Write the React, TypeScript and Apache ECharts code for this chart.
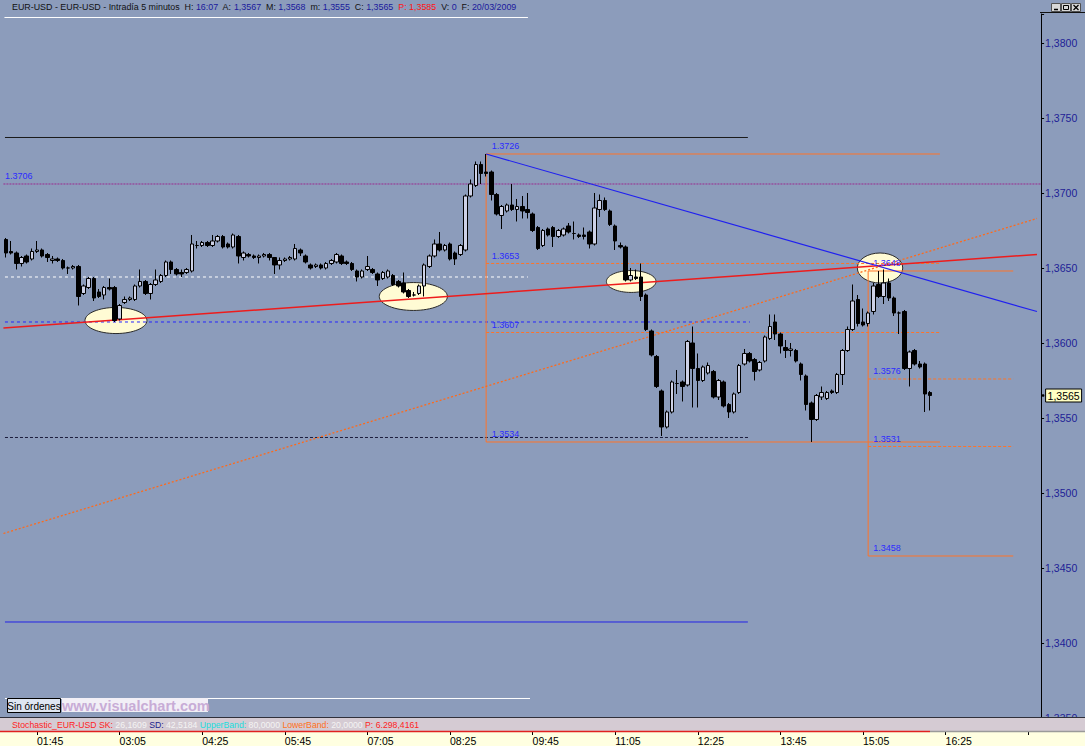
import { useEffect, useRef } from 'react';
import * as echarts from 'echarts';

// ---------- DATA ----------
const SLOT_COUNT = 201; // 5-minute slots shown on the time axis
const FIRST_SLOT_MINUTES = 75; // 01:15
const TIME_LABEL_FIRST = 6;
const TIME_LABEL_STEP = 16;
const TIME_LABEL_LAST = 190;

const TIME_SLOTS: string[] = Array.from({ length: SLOT_COUNT }, (_, i) => {
  const m = FIRST_SLOT_MINUTES + 5 * i;
  return String(Math.floor(m / 60) % 24).padStart(2, '0') + ':' + String(m % 60).padStart(2, '0');
});

// [open, close, low, high]
const CANDLES: number[][] = [
  [1.3669, 1.3660, 1.3657, 1.3670], [1.3661, 1.3660, 1.3659, 1.3668], [1.3660, 1.3653, 1.3649, 1.3661],
  [1.3653, 1.3657, 1.3651, 1.3658], [1.3658, 1.3654, 1.3653, 1.3659], [1.3656, 1.3661, 1.3655, 1.3663],
  [1.3661, 1.3662, 1.3660, 1.3668], [1.3662, 1.3658, 1.3657, 1.3663], [1.3659, 1.3657, 1.3654, 1.3660],
  [1.3655, 1.3656, 1.3653, 1.3658], [1.3656, 1.3655, 1.3654, 1.3657], [1.3655, 1.3650, 1.3649, 1.3656],
  [1.3650, 1.3650, 1.3646, 1.3651], [1.3650, 1.3651, 1.3649, 1.3652], [1.3651, 1.3631, 1.3625, 1.3652],
  [1.3633, 1.3638, 1.3632, 1.3639], [1.3637, 1.3643, 1.3636, 1.3644], [1.3643, 1.3630, 1.3628, 1.3644],
  [1.3634, 1.3631, 1.3630, 1.3636], [1.3632, 1.3637, 1.3629, 1.3638], [1.3637, 1.3636, 1.3635, 1.3643],
  [1.3637, 1.3615, 1.3614, 1.3638], [1.3616, 1.3625, 1.3615, 1.3626], [1.3627, 1.3629, 1.3626, 1.3631],
  [1.3629, 1.3630, 1.3628, 1.3631], [1.3629, 1.3638, 1.3628, 1.3639], [1.3638, 1.3641, 1.3637, 1.3649],
  [1.3641, 1.3633, 1.3632, 1.3642], [1.3633, 1.3639, 1.3629, 1.3640], [1.3639, 1.3642, 1.3638, 1.3649],
  [1.3641, 1.3645, 1.3640, 1.3646], [1.3645, 1.3654, 1.3644, 1.3655], [1.3654, 1.3649, 1.3646, 1.3655],
  [1.3649, 1.3646, 1.3645, 1.3650], [1.3647, 1.3646, 1.3644, 1.3649], [1.3647, 1.3649, 1.3646, 1.3650],
  [1.3648, 1.3666, 1.3647, 1.3672], [1.3665, 1.3665, 1.3663, 1.3668], [1.3665, 1.3667, 1.3664, 1.3668],
  [1.3667, 1.3665, 1.3664, 1.3668], [1.3665, 1.3668, 1.3664, 1.3672], [1.3668, 1.3671, 1.3667, 1.3672],
  [1.3671, 1.3664, 1.3663, 1.3672], [1.3666, 1.3664, 1.3663, 1.3667], [1.3664, 1.3672, 1.3663, 1.3673],
  [1.3671, 1.3658, 1.3653, 1.3672], [1.3657, 1.3660, 1.3655, 1.3661], [1.3659, 1.3658, 1.3657, 1.3660],
  [1.3658, 1.3657, 1.3656, 1.3659], [1.3657, 1.3658, 1.3653, 1.3659], [1.3658, 1.3659, 1.3657, 1.3660],
  [1.3659, 1.3657, 1.3655, 1.3660], [1.3657, 1.3652, 1.3646, 1.3657], [1.3652, 1.3655, 1.3649, 1.3657],
  [1.3655, 1.3656, 1.3654, 1.3657], [1.3656, 1.3657, 1.3655, 1.3658], [1.3656, 1.3663, 1.3655, 1.3666],
  [1.3662, 1.3660, 1.3658, 1.3663], [1.3658, 1.3654, 1.3653, 1.3659], [1.3652, 1.3650, 1.3649, 1.3653],
  [1.3651, 1.3652, 1.3650, 1.3653], [1.3652, 1.3650, 1.3649, 1.3653], [1.3650, 1.3653, 1.3649, 1.3654],
  [1.3653, 1.3655, 1.3652, 1.3656], [1.3654, 1.3659, 1.3653, 1.3660], [1.3658, 1.3653, 1.3652, 1.3659],
  [1.3654, 1.3653, 1.3652, 1.3655], [1.3653, 1.3649, 1.3648, 1.3654], [1.3648, 1.3644, 1.3641, 1.3649],
  [1.3644, 1.3648, 1.3643, 1.3649], [1.3649, 1.3651, 1.3648, 1.3658], [1.3649, 1.3647, 1.3646, 1.3650],
  [1.3646, 1.3642, 1.3638, 1.3647], [1.3643, 1.3647, 1.3642, 1.3648], [1.3644, 1.3648, 1.3643, 1.3649],
  [1.3645, 1.3639, 1.3638, 1.3646], [1.3641, 1.3638, 1.3637, 1.3642], [1.3640, 1.3634, 1.3633, 1.3647],
  [1.3635, 1.3631, 1.3630, 1.3636], [1.3632, 1.3632, 1.3631, 1.3634], [1.3633, 1.3638, 1.3632, 1.3639],
  [1.3638, 1.3652, 1.3631, 1.3653], [1.3651, 1.3658, 1.3650, 1.3659], [1.3658, 1.3666, 1.3657, 1.3669],
  [1.3666, 1.3662, 1.3661, 1.3674], [1.3662, 1.3665, 1.3661, 1.3666], [1.3666, 1.3656, 1.3655, 1.3667],
  [1.3660, 1.3656, 1.3652, 1.3661], [1.3659, 1.3665, 1.3658, 1.3666], [1.3662, 1.3698, 1.3661, 1.3699],
  [1.3698, 1.3706, 1.3697, 1.3709], [1.3705, 1.3719, 1.3704, 1.3721], [1.3719, 1.3713, 1.3706, 1.3721],
  [1.3714, 1.3713, 1.3711, 1.3726], [1.3714, 1.3699, 1.3695, 1.3715], [1.3699, 1.3686, 1.3685, 1.3700],
  [1.3685, 1.3691, 1.3676, 1.3692], [1.3688, 1.3692, 1.3687, 1.3693], [1.3692, 1.3689, 1.3688, 1.3706],
  [1.3689, 1.3691, 1.3681, 1.3696], [1.3691, 1.3688, 1.3683, 1.3698], [1.3689, 1.3687, 1.3683, 1.3700],
  [1.3686, 1.3675, 1.3674, 1.3687], [1.3677, 1.3663, 1.3662, 1.3678], [1.3665, 1.3675, 1.3664, 1.3676],
  [1.3676, 1.3672, 1.3671, 1.3677], [1.3677, 1.3671, 1.3664, 1.3678], [1.3671, 1.3675, 1.3670, 1.3676],
  [1.3672, 1.3676, 1.3671, 1.3677], [1.3678, 1.3674, 1.3673, 1.3680], [1.3673, 1.3673, 1.3669, 1.3681],
  [1.3672, 1.3671, 1.3670, 1.3673], [1.3672, 1.3671, 1.3669, 1.3677], [1.3674, 1.3666, 1.3663, 1.3675],
  [1.3666, 1.3690, 1.3665, 1.3700], [1.3689, 1.3695, 1.3684, 1.3699], [1.3695, 1.3689, 1.3688, 1.3697],
  [1.3688, 1.3679, 1.3678, 1.3689], [1.3678, 1.3668, 1.3662, 1.3679], [1.3665, 1.3664, 1.3663, 1.3667],
  [1.3664, 1.3642, 1.3641, 1.3665], [1.3642, 1.3645, 1.3641, 1.3650], [1.3644, 1.3643, 1.3642, 1.3649],
  [1.3644, 1.3631, 1.3628, 1.3653], [1.3632, 1.3609, 1.3608, 1.3633], [1.3608, 1.3592, 1.3591, 1.3609],
  [1.3591, 1.3571, 1.3570, 1.3592], [1.3568, 1.3544, 1.3538, 1.3569], [1.3544, 1.3554, 1.3543, 1.3555],
  [1.3554, 1.3574, 1.3553, 1.3575], [1.3573, 1.3573, 1.3566, 1.3582], [1.3574, 1.3571, 1.3561, 1.3575],
  [1.3572, 1.3601, 1.3571, 1.3602], [1.3600, 1.3583, 1.3557, 1.3611], [1.3583, 1.3575, 1.3557, 1.3593],
  [1.3575, 1.3584, 1.3574, 1.3585], [1.3580, 1.3585, 1.3579, 1.3587], [1.3581, 1.3564, 1.3563, 1.3582],
  [1.3564, 1.3575, 1.3562, 1.3576], [1.3574, 1.3558, 1.3557, 1.3575], [1.3559, 1.3554, 1.3550, 1.3560],
  [1.3554, 1.3566, 1.3553, 1.3567], [1.3567, 1.3585, 1.3566, 1.3586], [1.3586, 1.3593, 1.3585, 1.3596],
  [1.3593, 1.3588, 1.3587, 1.3594], [1.3589, 1.3581, 1.3575, 1.3590], [1.3582, 1.3587, 1.3581, 1.3588],
  [1.3588, 1.3604, 1.3587, 1.3605], [1.3603, 1.3611, 1.3602, 1.3619], [1.3614, 1.3606, 1.3602, 1.3619],
  [1.3606, 1.3598, 1.3593, 1.3607], [1.3597, 1.3595, 1.3590, 1.3602], [1.3595, 1.3596, 1.3591, 1.3600],
  [1.3595, 1.3588, 1.3587, 1.3596], [1.3586, 1.3579, 1.3575, 1.3587], [1.3578, 1.3559, 1.3555, 1.3579],
  [1.3560, 1.3549, 1.3534, 1.3561], [1.3549, 1.3565, 1.3548, 1.3566], [1.3564, 1.3567, 1.3562, 1.3571],
  [1.3563, 1.3567, 1.3562, 1.3568], [1.3568, 1.3567, 1.3566, 1.3569], [1.3567, 1.3579, 1.3566, 1.3580],
  [1.3579, 1.3595, 1.3572, 1.3596], [1.3595, 1.3609, 1.3594, 1.3611], [1.3609, 1.3628, 1.3608, 1.3639],
  [1.3629, 1.3613, 1.3611, 1.3632], [1.3614, 1.3612, 1.3611, 1.3623], [1.3613, 1.3620, 1.3611, 1.3621],
  [1.3621, 1.3638, 1.3619, 1.3640], [1.3639, 1.3631, 1.3630, 1.3648], [1.3631, 1.3640, 1.3626, 1.3649],
  [1.3640, 1.3630, 1.3628, 1.3643], [1.3630, 1.3620, 1.3618, 1.3631], [1.3620, 1.3620, 1.3606, 1.3621],
  [1.3621, 1.3583, 1.3582, 1.3622], [1.3583, 1.3594, 1.3571, 1.3595], [1.3595, 1.3586, 1.3585, 1.3596],
  [1.3586, 1.3584, 1.3583, 1.3588], [1.3586, 1.3566, 1.3554, 1.3587], [1.3567, 1.3565, 1.3555, 1.3568],
];

const PRICE_MIN = 1.335;
const PRICE_MAX = 1.381933;
const PRICE_STEP = 0.005;

// horizontal levels (price) and their bar spans [from, to]
const LEVEL_PRICES = [1.3817, 1.3737, 1.3706, 1.3644, 1.3614, 1.3537, 1.3414, 1.3363];
const LEVEL_SPANS = [[-0.3, 101.1], [-0.2, 143.7], [-0.5, 200.5], [-0.2, 101.1], [-0.2, 144.1], [-0.2, 144.1], [-0.2, 143.7], [-0.2, 101.5]];

// trend lines [[bar, price], [bar, price]]
const TREND_SUPPORT = [[-0.5, 1.3610], [199.7, 1.3659]];
const TREND_DOWN = [[93, 1.3726], [199.7, 1.3621]];
const TREND_DOTTED = [[-0.5, 1.3473], [199.7, 1.3683]];

// fibonacci retracements
const FIB_A_BARS = [93, 180.9];
const FIB_A_PRICES = [1.3726, 1.3653, 1.3607, 1.3534];
const FIB_B_BARS = [167, 195.1];
const FIB_B_PRICES = [1.3648, 1.3576, 1.3531, 1.3458];

// circled zones [bar, price, halfWidthBars, halfHeightPrice]
const CIRCLED = [[21.3, 1.3615, 6.0, 0.00087], [78.9, 1.3631, 6.6, 0.00093], [121.1, 1.3641, 4.8, 0.00073], [169.3, 1.3650, 4.4, 0.0010]];

const LEFT_LEVEL_LABEL = [-0.2, 1.3706];

// ---------- STYLE ----------
const FONT = 'Liberation Sans, Arial, sans-serif';
const BG = '#8c9cbb';
const ORANGE = '#ff7428';
const GRID_LEFT = 3.43;
const GRID_RIGHT = 43.9;

const fmtComma = (v: number) => v.toFixed(4).replace('.', ',');

function lineSeries(data: number[][], color: string, type: any, width: number, z = 2) {
  return {
    type: 'line', xAxisIndex: 1, yAxisIndex: 0, data, symbol: 'none', silent: true,
    animation: false, lineStyle: { color, type, width }, z, clip: true,
  };
}

function buildOption(): any {
  const levelStyles: [string, any, number][] = [
    ['#ffffff', 'solid', 1],
    ['#1a1a1a', 'solid', 1],
    ['#9a2a8e', [2, 1], 1],
    ['#ffffff', [3, 3], 1],
    ['#2424ff', [3, 3], 1],
    ['#1c1c3c', [3, 2], 1],
    ['#2222e6', 'solid', 1],
    ['#ffffff', 'solid', 1],
  ];
  const series: any[] = [];

  LEVEL_PRICES.forEach((p, k) => {
    const [c, t, w] = levelStyles[k];
    series.push(lineSeries([[LEVEL_SPANS[k][0], p], [LEVEL_SPANS[k][1], p]], c, t, w));
  });

  const fibs = [[FIB_A_BARS, FIB_A_PRICES], [FIB_B_BARS, FIB_B_PRICES]];
  fibs.forEach(([bars, prices]) => {
    series.push(lineSeries([[bars[0], prices[0]], [bars[0], prices[3]]], ORANGE, 'solid', 1));
    prices.forEach((p, k) => {
      const dashed = k === 1 || k === 2;
      series.push(lineSeries([[bars[0], p], [bars[1], p]], ORANGE, dashed ? [3, 2] : 'solid', 1));
    });
  });

  series.push(lineSeries(TREND_DOTTED, '#ff6a1a', [2, 2], 1.3));
  series.push(lineSeries(TREND_DOWN, '#2020f0', 'solid', 1.2));
  series.push(lineSeries(TREND_SUPPORT, '#ee1c1c', 'solid', 1.5, 3));

  // circled zones
  series.push({
    type: 'custom', xAxisIndex: 1, yAxisIndex: 0, z: 1, silent: true, clip: false,
    data: CIRCLED, encode: { x: 0, y: 1 },
    renderItem: (_params: any, api: any) => {
      const c = api.coord([api.value(0), api.value(1)]);
      const s = api.size([api.value(2), api.value(3)]);
      return {
        type: 'ellipse', shape: { cx: c[0], cy: c[1], rx: s[0], ry: s[1] },
        style: { fill: '#fffbd4', stroke: '#2a2a2a', lineWidth: 1 },
      };
    },
  });

  // level labels
  const labelPts: number[][] = [LEFT_LEVEL_LABEL];
  FIB_A_PRICES.forEach((p) => labelPts.push([FIB_A_BARS[0] + 1.1, p]));
  FIB_B_PRICES.forEach((p) => labelPts.push([FIB_B_BARS[0] + 1.0, p]));
  series.push({
    type: 'custom', xAxisIndex: 1, yAxisIndex: 0, z: 6, silent: true, clip: false,
    data: labelPts, encode: { x: 0, y: 1 },
    renderItem: (_params: any, api: any) => {
      const c = api.coord([api.value(0), api.value(1)]);
      return {
        type: 'text', x: c[0], y: c[1] - 3,
        style: { text: api.value(1).toFixed(4), fill: '#2b2bff', font: `9px ${FONT}`, align: 'left', verticalAlign: 'bottom' },
      };
    },
  });

  // candles
  series.push({
    type: 'candlestick', xAxisIndex: 0, yAxisIndex: 0, z: 5, data: CANDLES, barWidth: 4, silent: true,
    itemStyle: { color: '#cdd1e6', color0: '#000000', borderColor: '#000000', borderColor0: '#000000', borderWidth: 1 },
  });

  // last price tag
  const last = CANDLES[CANDLES.length - 1];
  series.push({
    type: 'custom', xAxisIndex: 1, yAxisIndex: 0, z: 10, silent: true, clip: false,
    data: [[CANDLES.length - 1, last[1]]], encode: { x: 0, y: 1 },
    renderItem: (params: any, api: any) => {
      const cs = params.coordSys;
      const y = Math.round(api.coord([api.value(0), api.value(1)])[1]) + 0.5;
      const ax = cs.x + cs.width;
      return {
        type: 'group', children: [
          { type: 'rect', shape: { x: ax + 4.5, y: y - 6.5, width: 36, height: 13 }, style: { fill: '#ffffc4', stroke: '#000', lineWidth: 1 } },
          { type: 'text', x: ax + 22.5, y, style: { text: fmtComma(api.value(1)), fill: '#000', font: `10.5px ${FONT}`, align: 'center', verticalAlign: 'middle' } },
          { type: 'circle', shape: { cx: ax + 2, cy: y, r: 1.3 }, style: { fill: '#000' } },
        ],
      };
    },
  });

  const btn = (x: number, y: number, kind: string) => {
    const children: any[] = [
      { type: 'rect', shape: { x: x + 0.5, y: y + 0.5, width: 9, height: 8 }, style: { fill: '#d8d8d8', stroke: '#505050', lineWidth: 1 } },
    ];
    if (kind === 'min') children.push({ type: 'line', shape: { x1: x + 3, y1: y + 6.5, x2: x + 7, y2: y + 6.5 }, style: { stroke: '#000', lineWidth: 1.5 } });
    if (kind === 'max') children.push({ type: 'rect', shape: { x: x + 2.5, y: y + 2.5, width: 5, height: 4 }, style: { fill: 'none', stroke: '#000', lineWidth: 1 } });
    if (kind === 'close') {
      children.push({ type: 'line', shape: { x1: x + 2.5, y1: y + 2, x2: x + 7.5, y2: y + 7 }, style: { stroke: '#000', lineWidth: 1.3 } });
      children.push({ type: 'line', shape: { x1: x + 7.5, y1: y + 2, x2: x + 2.5, y2: y + 7 }, style: { stroke: '#000', lineWidth: 1.3 } });
    }
    return { type: 'group', z: 60, children };
  };

  const graphic: any[] = [
    // header
    {
      type: 'text', left: 12, top: 2.5, z: 50,
      style: {
        text: '{k|EUR-USD - EUR-USD - Intradía 5 minutos  H: }{v|16:07}{k|  A: }{v|1,3567}{k|  M: }{v|1,3568}{k|  m: }{v|1,3555}{k|  C: }{v|1,3565}{r|  P: 1,3585}{k|  V: }{v|0}{k|  F: }{v|20/03/2009}',
        font: `8.9px ${FONT}`,
        rich: {
          k: { fill: '#111111', fontSize: 8.9, fontFamily: FONT },
          v: { fill: '#1a1a9c', fontSize: 8.9, fontFamily: FONT },
          r: { fill: '#ff1414', fontSize: 8.9, fontFamily: FONT },
        },
      },
    },
    btn(1051, 3, 'min'), btn(1061, 3, 'max'), btn(1071, 3, 'close'),
    { type: 'line', z: 50, shape: { x1: 1040, y1: 12.5, x2: 1085, y2: 12.5 }, style: { stroke: '#111', lineWidth: 1 } },
    // bottom panel separation
    { type: 'line', z: 50, shape: { x1: 0, y1: 717.5, x2: 1085, y2: 717.5 }, style: { stroke: '#30303a', lineWidth: 1 } },
    { type: 'rect', z: 40, shape: { x: 0, y: 718, width: 1085, height: 13 }, style: { fill: '#d5cbd3' } },
    {
      type: 'text', left: 12, top: 720, z: 50,
      style: {
        text: '{r|Stochastic_EUR-USD SK: }{w|26,1609}{b| SD: }{w|42,5184}{c| UpperBand: }{w|80,0000}{o| LowerBand: }{w|20,0000}{r| P: 6.298,4161}',
        font: `8.7px ${FONT}`,
        rich: {
          r: { fill: '#ff1e1e', fontSize: 8.7, fontFamily: FONT },
          w: { fill: '#f4f4f4', fontSize: 8.7, fontFamily: FONT },
          b: { fill: '#20208c', fontSize: 8.7, fontFamily: FONT },
          c: { fill: '#18dede', fontSize: 8.7, fontFamily: FONT },
          o: { fill: '#ff7020', fontSize: 8.7, fontFamily: FONT },
        },
      },
    },
    btn(1051, 720, 'min'), btn(1061, 720, 'max'), btn(1071, 720, 'close'),
    { type: 'rect', z: -5, shape: { x: 0, y: 731, width: 1085, height: 15 }, style: { fill: '#ffffe1' } },
    { type: 'line', z: 45, shape: { x1: 930, y1: 731.5, x2: 1085, y2: 731.5 }, style: { stroke: '#9a9a9a', lineWidth: 1.5 } },
    { type: 'line', z: 45, shape: { x1: 0, y1: 731.5, x2: 930, y2: 731.5 }, style: { stroke: '#e02020', lineWidth: 1.5 } },
    // buttons bottom-left
    { type: 'rect', z: 50, shape: { x: 7.5, y: 698.5, width: 53, height: 14 }, style: { fill: '#dfe6f2', stroke: '#000', lineWidth: 1 } },
    { type: 'text', z: 51, x: 34, y: 706, style: { text: 'Sin órdenes', fill: '#000', font: `10px ${FONT}`, align: 'center', verticalAlign: 'middle' } },
    { type: 'rect', z: 50, shape: { x: 62, y: 698, width: 146, height: 14 }, style: { fill: '#f2eff6' } },
    { type: 'text', z: 51, x: 62, y: 705.5, style: { text: 'www.visualchart.com', fill: '#c8acd6', font: `bold 14.5px ${FONT}`, align: 'left', verticalAlign: 'middle' } },
  ];

  return {
    animation: false,
    backgroundColor: BG,
    graphic,
    grid: [
      { left: GRID_LEFT, right: GRID_RIGHT, top: 14, bottom: 28 },
      { left: GRID_LEFT, right: GRID_RIGHT, top: 725, bottom: 15 },
    ],
    xAxis: [
      { type: 'category', gridIndex: 0, data: TIME_SLOTS, boundaryGap: true, show: false },
      { type: 'value', gridIndex: 0, min: -0.5, max: SLOT_COUNT - 0.5, show: false },
      {
        type: 'category', gridIndex: 1, data: TIME_SLOTS, boundaryGap: true, position: 'bottom',
        axisLine: { show: false },
        axisTick: {
          show: true, alignWithLabel: true, length: 4, lineStyle: { color: '#000', width: 1 },
          interval: (i: number) => (i - TIME_LABEL_FIRST) % TIME_LABEL_STEP === 0 && i >= TIME_LABEL_FIRST,
        },
        axisLabel: {
          show: true, align: 'left', margin: 4, color: '#000', fontSize: 10.5, fontFamily: FONT,
          interval: (i: number) => (i - TIME_LABEL_FIRST) % TIME_LABEL_STEP === 0 && i >= TIME_LABEL_FIRST && i <= TIME_LABEL_LAST,
        },
        splitLine: { show: false },
      },
    ],
    yAxis: [
      {
        type: 'value', gridIndex: 0, position: 'right', min: PRICE_MIN, max: PRICE_MAX, interval: PRICE_STEP,
        axisLine: { show: true, onZero: false, lineStyle: { color: '#000', width: 1 } },
        axisTick: { show: true, length: 3, lineStyle: { color: '#000' } },
        axisLabel: {
          margin: 4, color: '#1e1e96', fontSize: 10.5, fontFamily: FONT,
          formatter: (v: number) => (Math.abs(v / PRICE_STEP - Math.round(v / PRICE_STEP)) > 1e-6 ? '' : fmtComma(v)),
        },
        splitLine: { show: false },
      },
      { type: 'value', gridIndex: 1, min: 0, max: 1, show: false },
    ],
    series,
  };
}

export default function App() {
  const ref = useRef<HTMLDivElement>(null);
  useEffect(() => {
    const el = ref.current;
    if (!el) return;
    const chart = echarts.init(el, undefined, { renderer: 'svg' });
    chart.setOption(buildOption());
    return () => chart.dispose();
  }, []);
  return <div ref={ref} style={{ position: 'absolute', left: 0, top: 0, width: 1085, height: 746 }} />;
}
